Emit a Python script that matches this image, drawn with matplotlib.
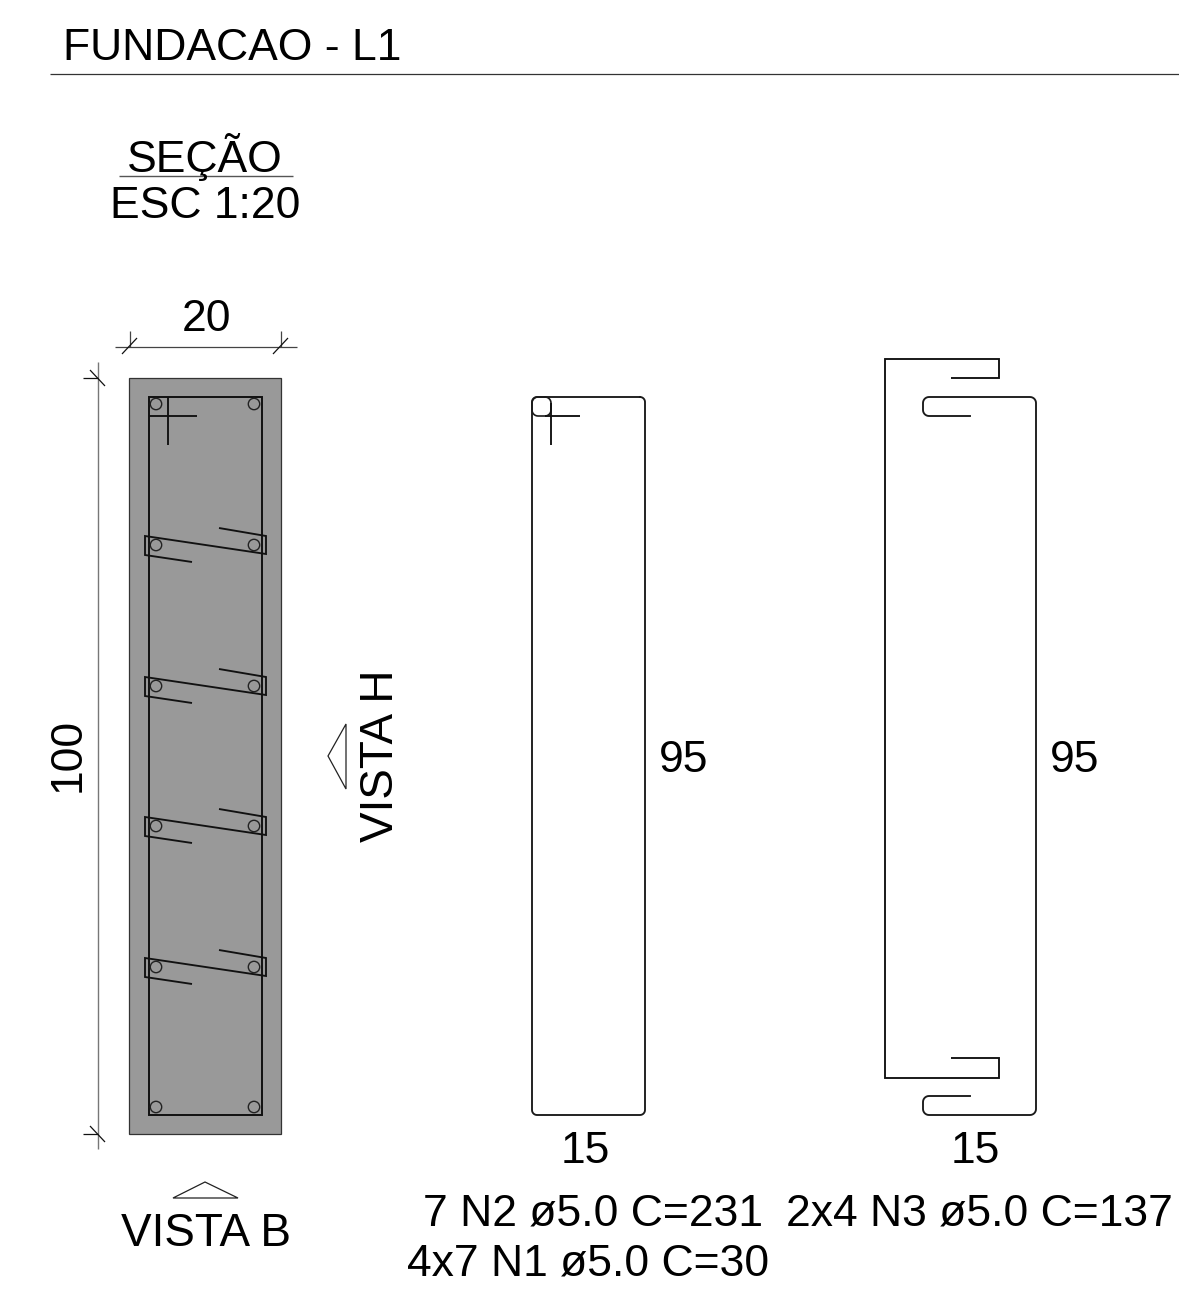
import matplotlib
matplotlib.use('Agg')
import matplotlib.pyplot as plt
import numpy as np
from matplotlib.patches import Rectangle, Circle, Polygon

plt.rcParams['font.family'] = ['Liberation Sans', 'DejaVu Sans']

W, H = 1179, 1290

# section, everything in drawing pixels
concrete = (129, 378, 281, 1134)
stirrup = (149, 397, 262, 1115)
bars = [(156, 404), (254, 404), (156, 1107), (254, 1107)]
tie_y = [545, 686, 826, 967]

# bar shapes
n2_box = (532, 397, 645, 1115)
n3_box = (923, 397, 1036, 1115)

left_labels = [
    ('FUNDACAO - L1', 63, 60),
    ('7 N2 ø5.0 C=231', 423, 1226),
    ('2x4 N3 ø5.0 C=137', 786, 1226),
    ('4x7 N1 ø5.0 C=30', 407, 1275),
    ('2x4 N4 ø5.0 C=30', 417, 1321),
]
center_labels = [
    ('SEÇÃO', 205, 172),
    ('ESC 1:20', 205, 218),
    ('20', 206, 331),
    ('95', 684, 772),
    ('95', 1075, 772),
    ('15', 585, 1163),
    ('15', 975, 1163),
]

fig = plt.figure(figsize=(W / 100, H / 100), dpi=100)
ax = fig.add_axes([0, 0, 1, 1])
ax.set_xlim(0, W)
ax.set_ylim(H, 0)
ax.axis('off')


def line(xs, ys, lw=1.35, color='#111111'):
    ax.plot(xs, ys, color=color, lw=lw, solid_capstyle='butt', solid_joinstyle='miter')


def arc(cx, cy, r, a0):
    t = np.linspace(a0, a0 + np.pi / 2, 8)
    return list(cx + r * np.cos(t)), list(cy + r * np.sin(t))


def rounded(x0, y0, x1, y1, r):
    xs, ys = [], []
    for cx, cy, a in [(x1 - r, y0 + r, -np.pi / 2), (x1 - r, y1 - r, 0),
                      (x0 + r, y1 - r, np.pi / 2), (x0 + r, y0 + r, np.pi)]:
        ax_, ay_ = arc(cx, cy, r, a)
        xs += ax_
        ys += ay_
    return xs + xs[:1], ys + ys[:1]


# title rule
line([50, 1179], [74, 74], lw=0.9, color='#333333')
# SECAO rule
line([119, 293], [176, 176], lw=1.0, color='#555555')

# concrete
x0, y0, x1, y1 = concrete
ax.add_patch(Rectangle((x0, y0), x1 - x0, y1 - y0, fc='#999999', ec='#333333', lw=0.9))

# stirrup outline with hook cross
x0, y0, x1, y1 = stirrup
ax.add_patch(Rectangle((x0, y0), x1 - x0, y1 - y0, fc='none', ec='#111111', lw=1.4))
line([149, 197], [416, 416])
line([168, 168], [397, 445])

# main bars
for cx, cy in bars:
    ax.add_patch(Circle((cx, cy), 5.7, fc='none', ec='#222222', lw=1.0))

# ties
for y in tie_y:
    line([219, 266, 266, 145, 145, 192],
         [y - 17, y - 9, y + 9, y - 9, y + 10, y + 17])
    ax.add_patch(Circle((156, y), 5.7, fc='none', ec='#222222', lw=1.0))
    ax.add_patch(Circle((254, y), 5.7, fc='none', ec='#222222', lw=1.0))

# dimensions
line([115, 297], [347, 347], lw=0.9, color='#444444')
for x in [130, 281]:
    line([x, x], [331, 347], lw=0.9, color='#444444')
    line([x - 8, x + 7], [354, 338], lw=0.9)
line([98, 98], [362, 1149], lw=1.0, color='#777777')
for y in [378, 1134]:
    line([83, 98], [y, y], lw=0.9)
    line([90, 105], [y - 8, y + 8], lw=0.9)

# view arrows
ax.add_patch(Polygon([(173, 1198), (205, 1182), (238, 1198)], closed=True, fc='none', ec='#222222', lw=0.9))
ax.add_patch(Polygon([(346, 724), (328, 756), (346, 789)], closed=True, fc='none', ec='#222222', lw=0.9))

# N2
x0, y0, x1, y1 = n2_box
xs, ys = rounded(x0, y0, x1, y1, 5)
ax.plot(xs, ys, color='#1a1a1a', lw=1.35)
xs, ys = rounded(532, 397, 551, 416, 6)
ax.plot(xs, ys, color='#1a1a1a', lw=1.2)
line([545, 580], [416, 416])
line([551, 551], [403, 445])

# N3 outer stirrup
line([951, 999, 999, 885, 885, 999, 999, 951],
     [378, 378, 359, 359, 1078, 1078, 1058, 1058])

# N3 inner stirrup
x0, y0, x1, y1 = n3_box
r = 6
xs, ys = [970], [416]
for cx, cy, a in [(x0 + r, 416 - r, np.pi / 2), (x0 + r, 397 + r, np.pi),
                  (x1 - r, y0 + r, -np.pi / 2), (x1 - r, y1 - r, 0),
                  (x0 + r, y1 - r, np.pi / 2), (x0 + r, 1096 + r, np.pi)]:
    ax_, ay_ = arc(cx, cy, r, a)
    xs += ax_
    ys += ay_
xs.append(970)
ys.append(1096)
ax.plot(xs, ys, color='#1a1a1a', lw=1.35)

# labels
for txt, x, y in left_labels:
    ax.text(x, y, txt, fontsize=32, ha='left', va='baseline', color='black')
for txt, x, y in center_labels:
    ax.text(x, y, txt, fontsize=32, ha='center', va='baseline', color='black')
ax.text(206, 1246, 'VISTA B', fontsize=33, ha='center', va='baseline', color='black')
ax.text(80, 755, '100', fontsize=32, rotation=90, rotation_mode='anchor',
        ha='center', va='baseline', color='black')
ax.text(393, 756, 'VISTA H', fontsize=33, rotation=90, rotation_mode='anchor',
        ha='center', va='baseline', color='black')

fig.savefig('out.png', dpi=100)
